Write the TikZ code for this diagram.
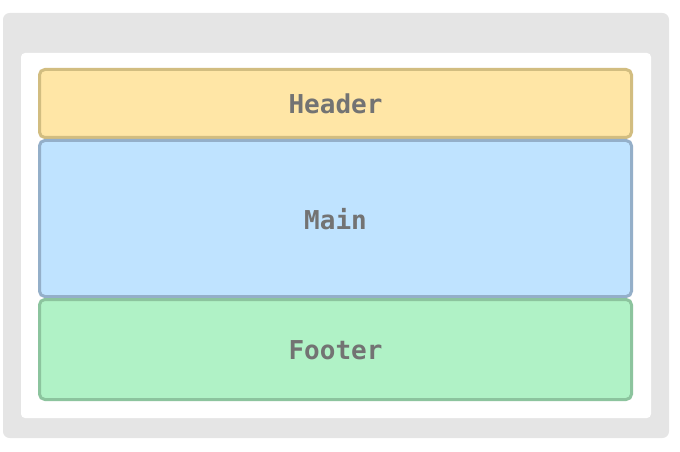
\documentclass[tikz,border=0pt]{standalone}
\usepackage{fontspec}
\setmonofont{DejaVu Sans Mono}
\definecolor{framegray}{HTML}{E5E5E5}
\definecolor{textgray}{HTML}{737373}
\definecolor{headfill}{HTML}{FFE6A6}
\definecolor{headline}{HTML}{D2BD80}
\definecolor{mainfill}{HTML}{BFE3FF}
\definecolor{mainline}{HTML}{94AFC9}
\definecolor{footfill}{HTML}{B0F2C6}
\definecolor{footline}{HTML}{8CC49E}
\tikzset{
  region/.style={line width=2.25pt, rounded corners=4pt},
  label/.style={text=textgray, font=\ttfamily\bfseries\fontsize{19.5}{23}\selectfont}
}

\begin{document}
\begin{tikzpicture}[x=0.75pt, y=-0.75pt]
    \useasboundingbox (0,0) rectangle (680,452);
    % Page frame
    \fill[framegray, rounded corners=5pt] (3,13) rectangle (669,438);
    \fill[white, rounded corners=3pt] (21,53) rectangle (651,418);

    % Regions
    \draw[region, fill=headfill, draw=headline] (39.5,69.5) rectangle (631.5,137.5);
    \draw[region, fill=mainfill, draw=mainline] (39.5,140.5) rectangle (631.5,296.5);
    \draw[region, fill=footfill, draw=footline] (39.5,299.5) rectangle (631.5,399.5);

    \node[label] (header) at (335.5,104) {Header};
    \node[label] (main) at (335.5,219) {Main};
    \node[label] (footer) at (335.5,350) {Footer};
\end{tikzpicture}
\end{document}
